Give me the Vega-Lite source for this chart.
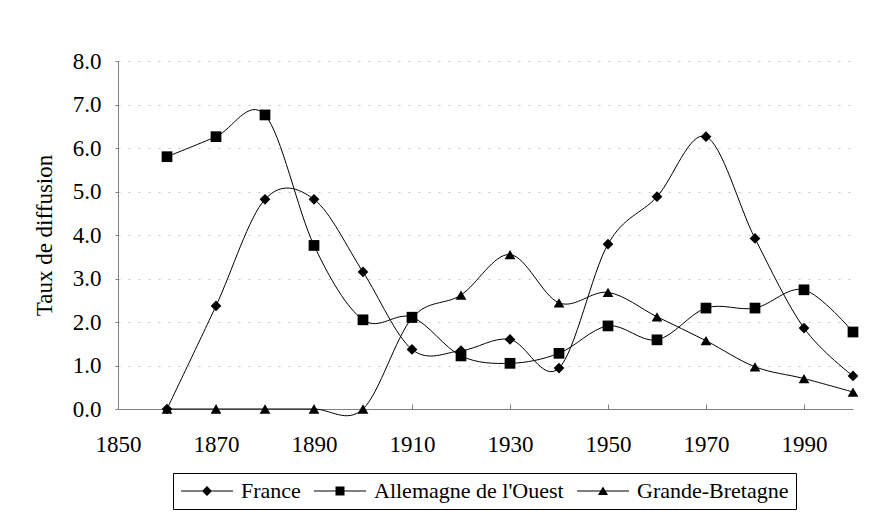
{
  "$schema": "https://vega.github.io/schema/vega-lite/v6.json",
  "width": 735,
  "height": 348,
  "autosize": {"type": "none"},
  "padding": {"left": 118, "top": 61, "right": 35, "bottom": 106},
  "background": "white",
  "config": {
    "view": {"stroke": null},
    "font": "Liberation Serif"
  },
  "data": {
    "values": [
      {"year": 1860, "series": "France", "value": 0},
      {"year": 1870, "series": "France", "value": 2.37},
      {"year": 1880, "series": "France", "value": 4.82},
      {"year": 1890, "series": "France", "value": 4.82},
      {"year": 1900, "series": "France", "value": 3.15},
      {"year": 1910, "series": "France", "value": 1.37},
      {"year": 1920, "series": "France", "value": 1.34},
      {"year": 1930, "series": "France", "value": 1.6},
      {"year": 1940, "series": "France", "value": 0.94},
      {"year": 1950, "series": "France", "value": 3.79},
      {"year": 1960, "series": "France", "value": 4.88},
      {"year": 1970, "series": "France", "value": 6.26},
      {"year": 1980, "series": "France", "value": 3.92},
      {"year": 1990, "series": "France", "value": 1.86},
      {"year": 2000, "series": "France", "value": 0.76},
      {"year": 1860, "series": "Allemagne de l'Ouest", "value": 5.8},
      {"year": 1870, "series": "Allemagne de l'Ouest", "value": 6.26},
      {"year": 1880, "series": "Allemagne de l'Ouest", "value": 6.76},
      {"year": 1890, "series": "Allemagne de l'Ouest", "value": 3.76},
      {"year": 1900, "series": "Allemagne de l'Ouest", "value": 2.05},
      {"year": 1910, "series": "Allemagne de l'Ouest", "value": 2.11},
      {"year": 1920, "series": "Allemagne de l'Ouest", "value": 1.22},
      {"year": 1930, "series": "Allemagne de l'Ouest", "value": 1.05},
      {"year": 1940, "series": "Allemagne de l'Ouest", "value": 1.28},
      {"year": 1950, "series": "Allemagne de l'Ouest", "value": 1.91},
      {"year": 1960, "series": "Allemagne de l'Ouest", "value": 1.59},
      {"year": 1970, "series": "Allemagne de l'Ouest", "value": 2.32},
      {"year": 1980, "series": "Allemagne de l'Ouest", "value": 2.32},
      {"year": 1990, "series": "Allemagne de l'Ouest", "value": 2.74},
      {"year": 2000, "series": "Allemagne de l'Ouest", "value": 1.77},
      {"year": 1860, "series": "Grande-Bretagne", "value": 0},
      {"year": 1870, "series": "Grande-Bretagne", "value": 0},
      {"year": 1880, "series": "Grande-Bretagne", "value": 0},
      {"year": 1890, "series": "Grande-Bretagne", "value": 0},
      {"year": 1900, "series": "Grande-Bretagne", "value": 0},
      {"year": 1910, "series": "Grande-Bretagne", "value": 2.09},
      {"year": 1920, "series": "Grande-Bretagne", "value": 2.62},
      {"year": 1930, "series": "Grande-Bretagne", "value": 3.55},
      {"year": 1940, "series": "Grande-Bretagne", "value": 2.44},
      {"year": 1950, "series": "Grande-Bretagne", "value": 2.68},
      {"year": 1960, "series": "Grande-Bretagne", "value": 2.12},
      {"year": 1970, "series": "Grande-Bretagne", "value": 1.57},
      {"year": 1980, "series": "Grande-Bretagne", "value": 0.97},
      {"year": 1990, "series": "Grande-Bretagne", "value": 0.7},
      {"year": 2000, "series": "Grande-Bretagne", "value": 0.39}
    ]
  },
  "encoding": {
    "x": {
      "field": "year",
      "type": "quantitative",
      "scale": {"domain": [1850, 2000], "nice": false, "zero": false},
      "axis": {
        "title": null,
        "values": [1850, 1870, 1890, 1910, 1930, 1950, 1970, 1990],
        "format": "d",
        "grid": false,
        "domainColor": "#808080",
        "tickColor": "#808080",
        "tickSize": -5,
        "labelPadding": 29,
        "labelFont": "Liberation Serif",
        "labelFontSize": 23,
        "labelColor": "black",
        "labelFlush": false
      }
    },
    "y": {
      "field": "value",
      "type": "quantitative",
      "scale": {"domain": [0, 8], "nice": false},
      "axis": {
        "title": "Taux de diffusion",
        "titleFont": "Liberation Serif",
        "titleFontSize": 23,
        "titleFontWeight": "normal",
        "titleColor": "black",
        "titlePadding": 16,
        "values": [0, 1, 2, 3, 4, 5, 6, 7, 8],
        "format": ".1f",
        "grid": true,
        "gridColor": "#c8c8c8",
        "gridDash": [2, 8],
        "domainColor": "#808080",
        "tickColor": "#808080",
        "tickSize": 3,
        "labelPadding": 14,
        "labelFont": "Liberation Serif",
        "labelFontSize": 23,
        "labelColor": "black"
      }
    }
  },
  "resolve": {"scale": {"shape": "independent"}, "legend": {"shape": "independent"}},
  "layer": [
    {
      "mark": {"type": "line", "interpolate": "cardinal", "color": "black", "strokeWidth": 1},
      "encoding": {"detail": {"field": "series"}}
    },
    {
      "mark": {"type": "point", "filled": true, "color": "black", "opacity": 1, "strokeWidth": 1, "size": 115},
      "encoding": {
        "shape": {
          "field": "series",
          "type": "nominal",
          "scale": {
            "domain": ["France", "Allemagne de l'Ouest", "Grande-Bretagne"],
            "range": ["diamond", "square", "triangle-up"]
          },
          "legend": null
        }
      }
    },
    {
      "transform": [{"filter": "false"}],
      "mark": {"type": "point", "fill": "black", "stroke": "black", "opacity": 1, "strokeWidth": 1},
      "encoding": {
        "shape": {
          "field": "series",
          "type": "nominal",
          "scale": {
            "domain": ["France", "Allemagne de l'Ouest", "Grande-Bretagne"],
            "range": [
              "M-1,-0.05H4.2V0.05H-1ZM1.6,-0.5L2.1,0L1.6,0.5L1.1,0Z",
              "M-1,-0.05H4.2V0.05H-1ZM1.15,-0.45H2.05V0.45H1.15Z",
              "M-1,-0.05H4.2V0.05H-1ZM1.6,-0.45L2.1,0.4H1.1Z"
            ]
          },
          "legend": {
            "orient": "none",
            "legendX": 55,
            "legendY": 412,
            "direction": "horizontal",
            "title": null,
            "symbolSize": 400,
            "symbolFillColor": "black",
            "symbolStrokeColor": "black",
            "symbolStrokeWidth": 1,
            "symbolOpacity": 1,
            "labelFont": "Liberation Serif",
            "labelFontSize": 22,
            "labelColor": "black",
            "labelLimit": 0,
            "labelOffset": 39,
            "columnPadding": 11,
            "padding": 7,
            "strokeColor": "black"
          }
        }
      }
    }
  ]
}
